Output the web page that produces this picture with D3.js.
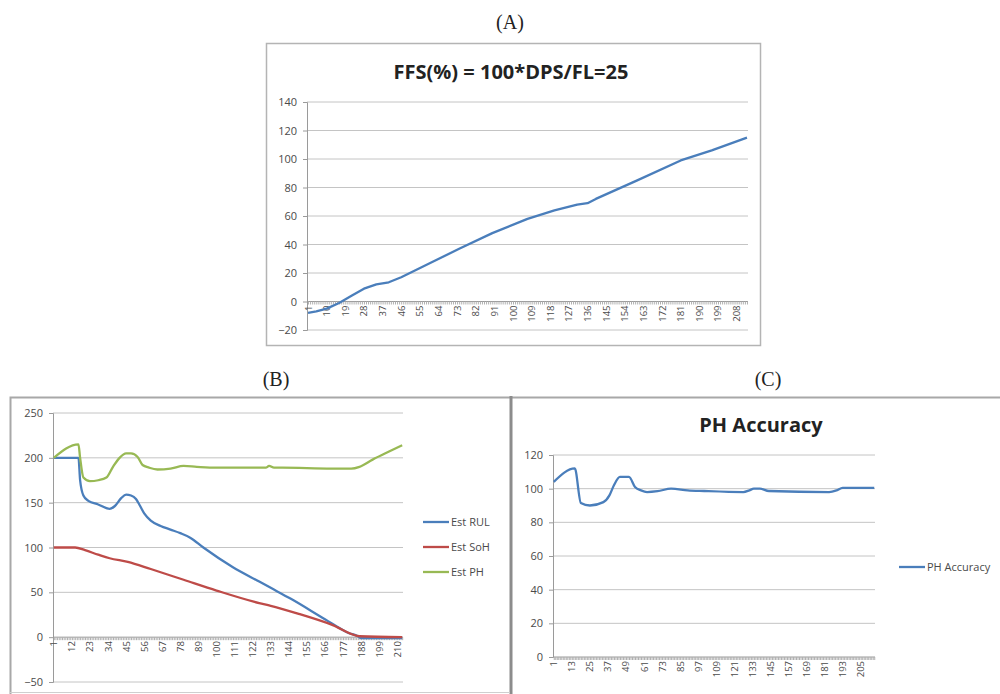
<!DOCTYPE html>
<html>
<head>
<meta charset="utf-8">
<script src="https://cdn.jsdelivr.net/npm/d3@7"></script>
<style>
html,body{margin:0;padding:0;background:#fff;}
svg{display:block;}
</style>
</head>
<body>
<svg id="chart" width="1000" height="694"></svg>
<script>
// ---------------- DATA ----------------
// Panel A : FFS(%) = 100*DPS/FL=25
const aTitle = "FFS(%) = 100*DPS/FL=25";
const aCount = 213;
const aCats = [1, 5, 10, 16, 22, 28, 34, 40, 46, 60, 74, 90, 107, 120, 131, 136, 140, 160, 181, 196, 213];
const aVals = [-8, -7, -5, -1, 4, 9, 12, 13.5, 17, 27, 37, 48, 58, 64, 68, 69, 72, 85, 99, 106, 115];
const aXLabels = [1, 10, 19, 28, 37, 46, 55, 64, 73, 82, 91, 100, 109, 118, 127, 136, 145, 154, 163, 172, 181, 190, 199, 208];
const aYTicks = [-20, 0, 20, 40, 60, 80, 100, 120, 140];

// Panel B : estimates
const bCount = 213;
const bSeriesNames = ["Est RUL", "Est SoH", "Est PH"];
const rulCats = [1, 16, 17, 19, 22, 28, 35, 38, 42, 45, 48, 51, 53, 56, 60, 66, 72, 78, 84, 92, 110, 126, 133, 145, 166, 180, 186, 188, 213];
const rulVals = [200, 200, 175, 158, 152, 148, 143, 146, 155, 159, 158, 154, 148, 138, 130, 124, 120, 116, 111, 100, 78, 62, 55, 43, 20, 5, 1, -1, -1];
const sohCats = [1, 14, 20, 28, 35, 46, 60, 80, 100, 126, 133, 150, 170, 187, 213];
const sohVals = [100, 100, 97, 92, 88, 84, 76, 64, 52, 38, 35, 26, 14, 1, 0];
const phCats = [1, 16, 17, 19, 23, 28, 33, 37, 41, 45, 48, 52, 55, 59, 64, 72, 80, 88, 100, 130, 132, 135, 140, 170, 182, 187, 195, 205, 213];
const phVals = [200, 215, 200, 178, 174, 175, 178, 190, 200, 205, 205, 201, 192, 189, 187, 188, 191, 190, 189, 189, 191, 189, 189, 188, 188, 190, 198, 207, 214];
const bXLabels = [1, 12, 23, 34, 45, 56, 67, 78, 89, 100, 111, 122, 133, 144, 155, 166, 177, 188, 199, 210];
const bYTicks = [-50, 0, 50, 100, 150, 200, 250];

// Panel C : PH Accuracy
const cTitle = "PH Accuracy";
const cCount = 214;
const accCats = [1, 15, 19, 25, 34, 38, 41, 45, 51, 55, 59, 63, 70, 79, 90, 101, 127, 131, 134, 138, 144, 184, 189, 193, 214];
const accVals = [104, 112, 91.5, 90, 92, 96, 102, 107, 107, 101, 99, 98, 98.5, 100, 99, 98.6, 98, 99, 100, 100, 98.6, 98, 99, 100.5, 100.5];
const cXLabels = [1, 13, 25, 37, 49, 61, 73, 85, 97, 109, 121, 133, 145, 157, 169, 181, 193, 205];
const cYTicks = [0, 20, 40, 60, 80, 100, 120];

// ---------------- DRAW ----------------
const svg = d3.select("#chart");
const BLUE = "#4a7ebb", RED = "#be4b48", GREEN = "#98b954";
const GRID = "#c4c4c4", AXIS = "#9a9a9a", TXT = "#4a4a4a";
const LBL_FONT = "'Open Sans', 'Liberation Sans', sans-serif";
const SERIF = "'Liberation Serif', 'DejaVu Serif', serif";

function panel(o) {
  const g = svg.append("g");
  const x = d3.scaleLinear().domain([0.5, o.count + 0.5]).range([o.left, o.right]);
  const y = d3.scaleLinear().domain(o.yDomain).range([o.bottom, o.top]);

  // gridlines
  g.selectAll(".grid").data(o.yTicks.filter(v => v !== 0)).enter().append("line")
    .attr("x1", o.left).attr("x2", o.right)
    .attr("y1", d => y(d)).attr("y2", d => y(d))
    .attr("stroke", GRID).attr("stroke-width", 1);

  // y axis
  const yAxis = d3.axisLeft(y).tickValues(o.yTicks).tickSize(4).tickPadding(6);
  const ya = g.append("g").attr("transform", `translate(${o.left},0)`).call(yAxis);
  ya.select(".domain").attr("stroke", AXIS);
  ya.selectAll(".tick line").attr("stroke", AXIS);
  ya.selectAll("text").attr("fill", TXT).style("font-family", LBL_FONT).style("font-size", o.yFont + "px");

  // category axis at value 0
  const y0 = y(0);
  const cats = d3.range(1, o.count + 1);
  const xa = d3.axisBottom(x).tickValues(cats).tickSize(3).tickFormat("");
  const xg = g.append("g").attr("transform", `translate(0,${y0})`).call(xa);
  xg.select(".domain").attr("stroke", AXIS).attr("d", `M${o.left},0H${o.right}`);
  xg.selectAll(".tick line").attr("stroke", "#b0b0b0");

  g.selectAll(".xl").data(o.xLabels).enter().append("text")
    .attr("transform", d => `translate(${x(d) + 3.5},${y0 + 4}) rotate(-90)`)
    .attr("text-anchor", "end")
    .attr("fill", TXT)
    .style("font-family", LBL_FONT).style("font-size", o.xFont + "px")
    .text(d => d);

  // lines
  const line = d3.line().x(d => x(d[0])).y(d => y(d[1])).curve(o.curve || d3.curveMonotoneX);
  o.series.forEach(s => {
    g.append("path").datum(d3.zip(s.cats, s.vals))
      .attr("d", line).attr("fill", "none")
      .attr("stroke", s.color).attr("stroke-width", 2.3)
      .attr("stroke-linejoin", "round");
  });

  // legend
  if (o.legend) {
    o.series.forEach((s, i) => {
      const ly = o.legend.y + i * o.legend.gap;
      g.append("line").attr("x1", o.legend.x).attr("x2", o.legend.x + o.legend.len)
        .attr("y1", ly).attr("y2", ly).attr("stroke", s.color).attr("stroke-width", 2.3);
      g.append("text").attr("x", o.legend.x + o.legend.len + 2).attr("y", ly + 4)
        .attr("fill", TXT).style("font-family", LBL_FONT).style("font-size", o.legend.font + "px")
        .text(s.name);
    });
  }
  return g;
}

// ---- Panel A ----
svg.append("text").attr("x", 510).attr("y", 29).attr("text-anchor", "middle")
  .style("font-family", SERIF).style("font-size", "20px").attr("fill", "#222").text("(A)");
svg.append("rect").attr("x", 266.5).attr("y", 43.5).attr("width", 494).attr("height", 302)
  .attr("fill", "#fff").attr("stroke", "#b4b4b4").attr("stroke-width", 1.5);
svg.append("text").attr("x", 511).attr("y", 79).attr("text-anchor", "middle")
  .style("font-family", LBL_FONT).style("font-weight", "bold")
  .style("font-size", "20px").attr("fill", "#222").text(aTitle);
panel({
  count: aCount, left: 307, right: 748, top: 102, bottom: 330, yDomain: [-20, 140],
  yTicks: aYTicks, xLabels: aXLabels, yFont: 11, xFont: 9.5, curve: d3.curveLinear,
  series: [{ name: "FFS", cats: aCats, vals: aVals, color: BLUE }]
});

// ---- Panel B / C frames and letters ----
svg.append("text").attr("x", 276).attr("y", 386).attr("text-anchor", "middle")
  .style("font-family", SERIF).style("font-size", "20px").attr("fill", "#222").text("(B)");
svg.append("text").attr("x", 768).attr("y", 386).attr("text-anchor", "middle")
  .style("font-family", SERIF).style("font-size", "20px").attr("fill", "#222").text("(C)");
svg.append("path").attr("d", "M10.5,694V397.5H510").attr("fill", "none").attr("stroke", "#a8a8a8").attr("stroke-width", 2);
svg.append("path").attr("d", "M510,397.5H1000").attr("fill", "none").attr("stroke", "#a8a8a8").attr("stroke-width", 2);
svg.append("line").attr("x1", 511).attr("x2", 511).attr("y1", 396).attr("y2", 694).attr("stroke", "#8c8c8c").attr("stroke-width", 3);
svg.append("line").attr("x1", 10).attr("x2", 510).attr("y1", 692.5).attr("y2", 692.5).attr("stroke", "#cfcfcf").attr("stroke-width", 1);

panel({
  count: bCount, left: 53, right: 403, top: 413, bottom: 682, yDomain: [-50, 250],
  yTicks: bYTicks, xLabels: bXLabels, yFont: 11, xFont: 9.5,
  series: [
    { name: bSeriesNames[0], cats: rulCats, vals: rulVals, color: BLUE },
    { name: bSeriesNames[1], cats: sohCats, vals: sohVals, color: RED },
    { name: bSeriesNames[2], cats: phCats, vals: phVals, color: GREEN }
  ],
  legend: { x: 423, y: 522, gap: 25, len: 26, font: 11 }
});

// ---- Panel C ----
svg.append("text").attr("x", 761).attr("y", 432).attr("text-anchor", "middle")
  .style("font-family", LBL_FONT).style("font-weight", "bold")
  .style("font-size", "20px").attr("fill", "#222").text(cTitle);
panel({
  count: cCount, left: 553, right: 875, top: 455, bottom: 657, yDomain: [0, 120],
  yTicks: cYTicks, xLabels: cXLabels, yFont: 11, xFont: 9.5,
  series: [{ name: "PH Accuracy", cats: accCats, vals: accVals, color: BLUE }],
  legend: { x: 899, y: 567, gap: 0, len: 26, font: 11 }
});
</script>
</body>
</html>
